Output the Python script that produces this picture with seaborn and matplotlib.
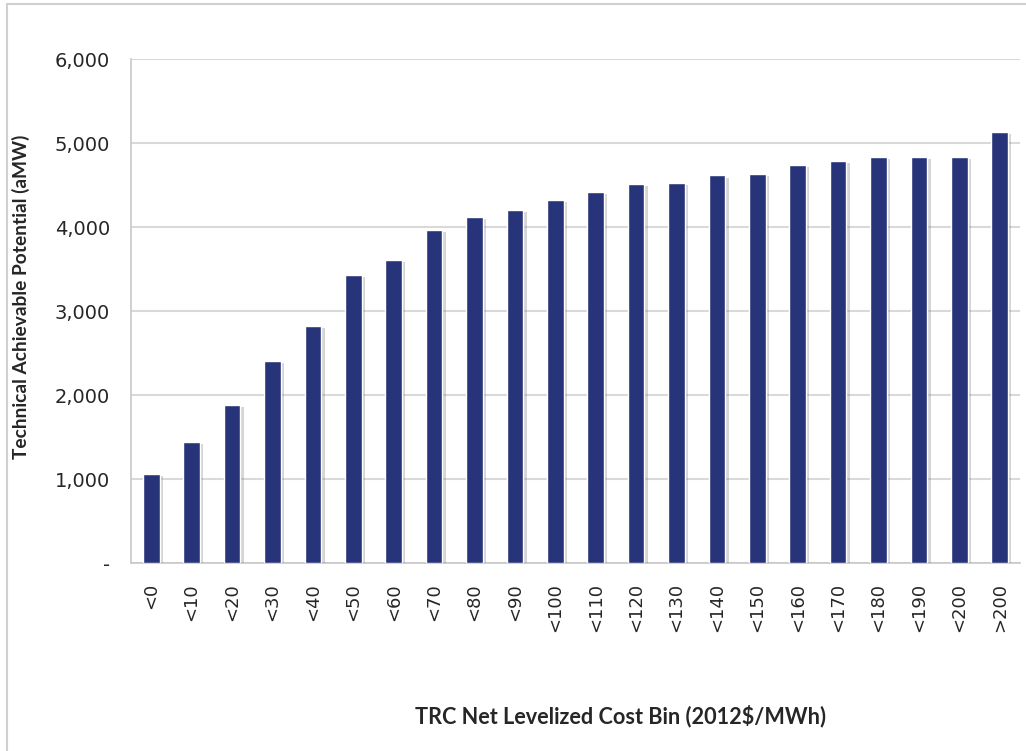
import pandas as pd
import matplotlib
matplotlib.use('Agg')
import matplotlib.pyplot as plt
import matplotlib.patheffects as pe
from matplotlib.lines import Line2D
from matplotlib.ticker import FuncFormatter, FixedLocator
import seaborn as sns

# Данные
cost_bins = ['<0', '<10', '<20', '<30', '<40', '<50', '<60', '<70', '<80', '<90', '<100',
             '<110', '<120', '<130', '<140', '<150', '<160', '<170', '<180', '<190', '<200', '>200']
potential_amw = [1060, 1440, 1880, 2410, 2830, 3430, 3610, 3970, 4120, 4210, 4320,
                 4415, 4510, 4525, 4615, 4630, 4740, 4790, 4835, 4835, 4835, 5130]

df = pd.DataFrame({'bin': cost_bins, 'potential': potential_amw})

sns.set_style('white')
plt.rcParams['font.family'] = ['DejaVu Sans']

fig = plt.figure(figsize=(10.26, 7.51), dpi=100)
ax = fig.add_axes([0.1277, 0.2497, 0.8663, 0.6717])

sns.barplot(x='bin', y='potential', data=df, color='#283479', saturation=1,
            width=0.41, ax=ax, zorder=3)

# Тень у столбцов
for bar in ax.patches:
    bar.set_path_effects([pe.SimplePatchShadow(offset=(2.5, -1.5), shadow_rgbFace='#777777', alpha=0.3),
                          pe.Normal()])

# Настройка осей
ax.set_ylim(0, 6000)
ax.set_xlim(-0.5, len(cost_bins) - 0.5)
ax.set_yticks(range(0, 6001, 1000))
ax.yaxis.set_major_formatter(FuncFormatter(lambda v, p: '-' if v == 0 else f'{int(v):,}'))
ax.grid(axis='y', color='#d9d9d9', linewidth=1.5, zorder=0)
ax.set_axisbelow(True)

for side in ['top', 'right']:
    ax.spines[side].set_visible(False)
for side in ['left', 'bottom']:
    ax.spines[side].set_color('#c8c8c8')
    ax.spines[side].set_linewidth(1.2)

ax.tick_params(axis='y', length=6, color='#c8c8c8', labelsize=14, pad=9)
ax.tick_params(axis='x', which='major', length=0, labelsize=13, pad=14, labelrotation=90)
ax.xaxis.set_minor_locator(FixedLocator([i - 0.5 for i in range(len(cost_bins) + 1)]))
ax.tick_params(axis='x', which='minor', length=7, color='#c8c8c8', width=1.2)
for lbl in ax.get_xticklabels():
    lbl.set_va('top')

ax.set_xlabel('TRC Net Levelized Cost Bin (2012$/MWh)', fontsize=15.6, fontweight='bold',
              family='Lato')
ax.set_ylabel('Technical Achievable Potential (aMW)', fontsize=13.8, fontweight='bold',
              family='Lato')
ax.xaxis.set_label_coords(0.551, -0.28)
ax.yaxis.set_label_coords(-0.114, 0.528)

# Рамка
fig.add_artist(Line2D([7 / 1026, 7 / 1026], [0, 1 - 4 / 751], transform=fig.transFigure,
                      color='#d0d0d0', linewidth=1.5))
fig.add_artist(Line2D([7 / 1026, 1], [1 - 4 / 751, 1 - 4 / 751], transform=fig.transFigure,
                      color='#d0d0d0', linewidth=1.5))

plt.savefig('out.png', dpi=100)
